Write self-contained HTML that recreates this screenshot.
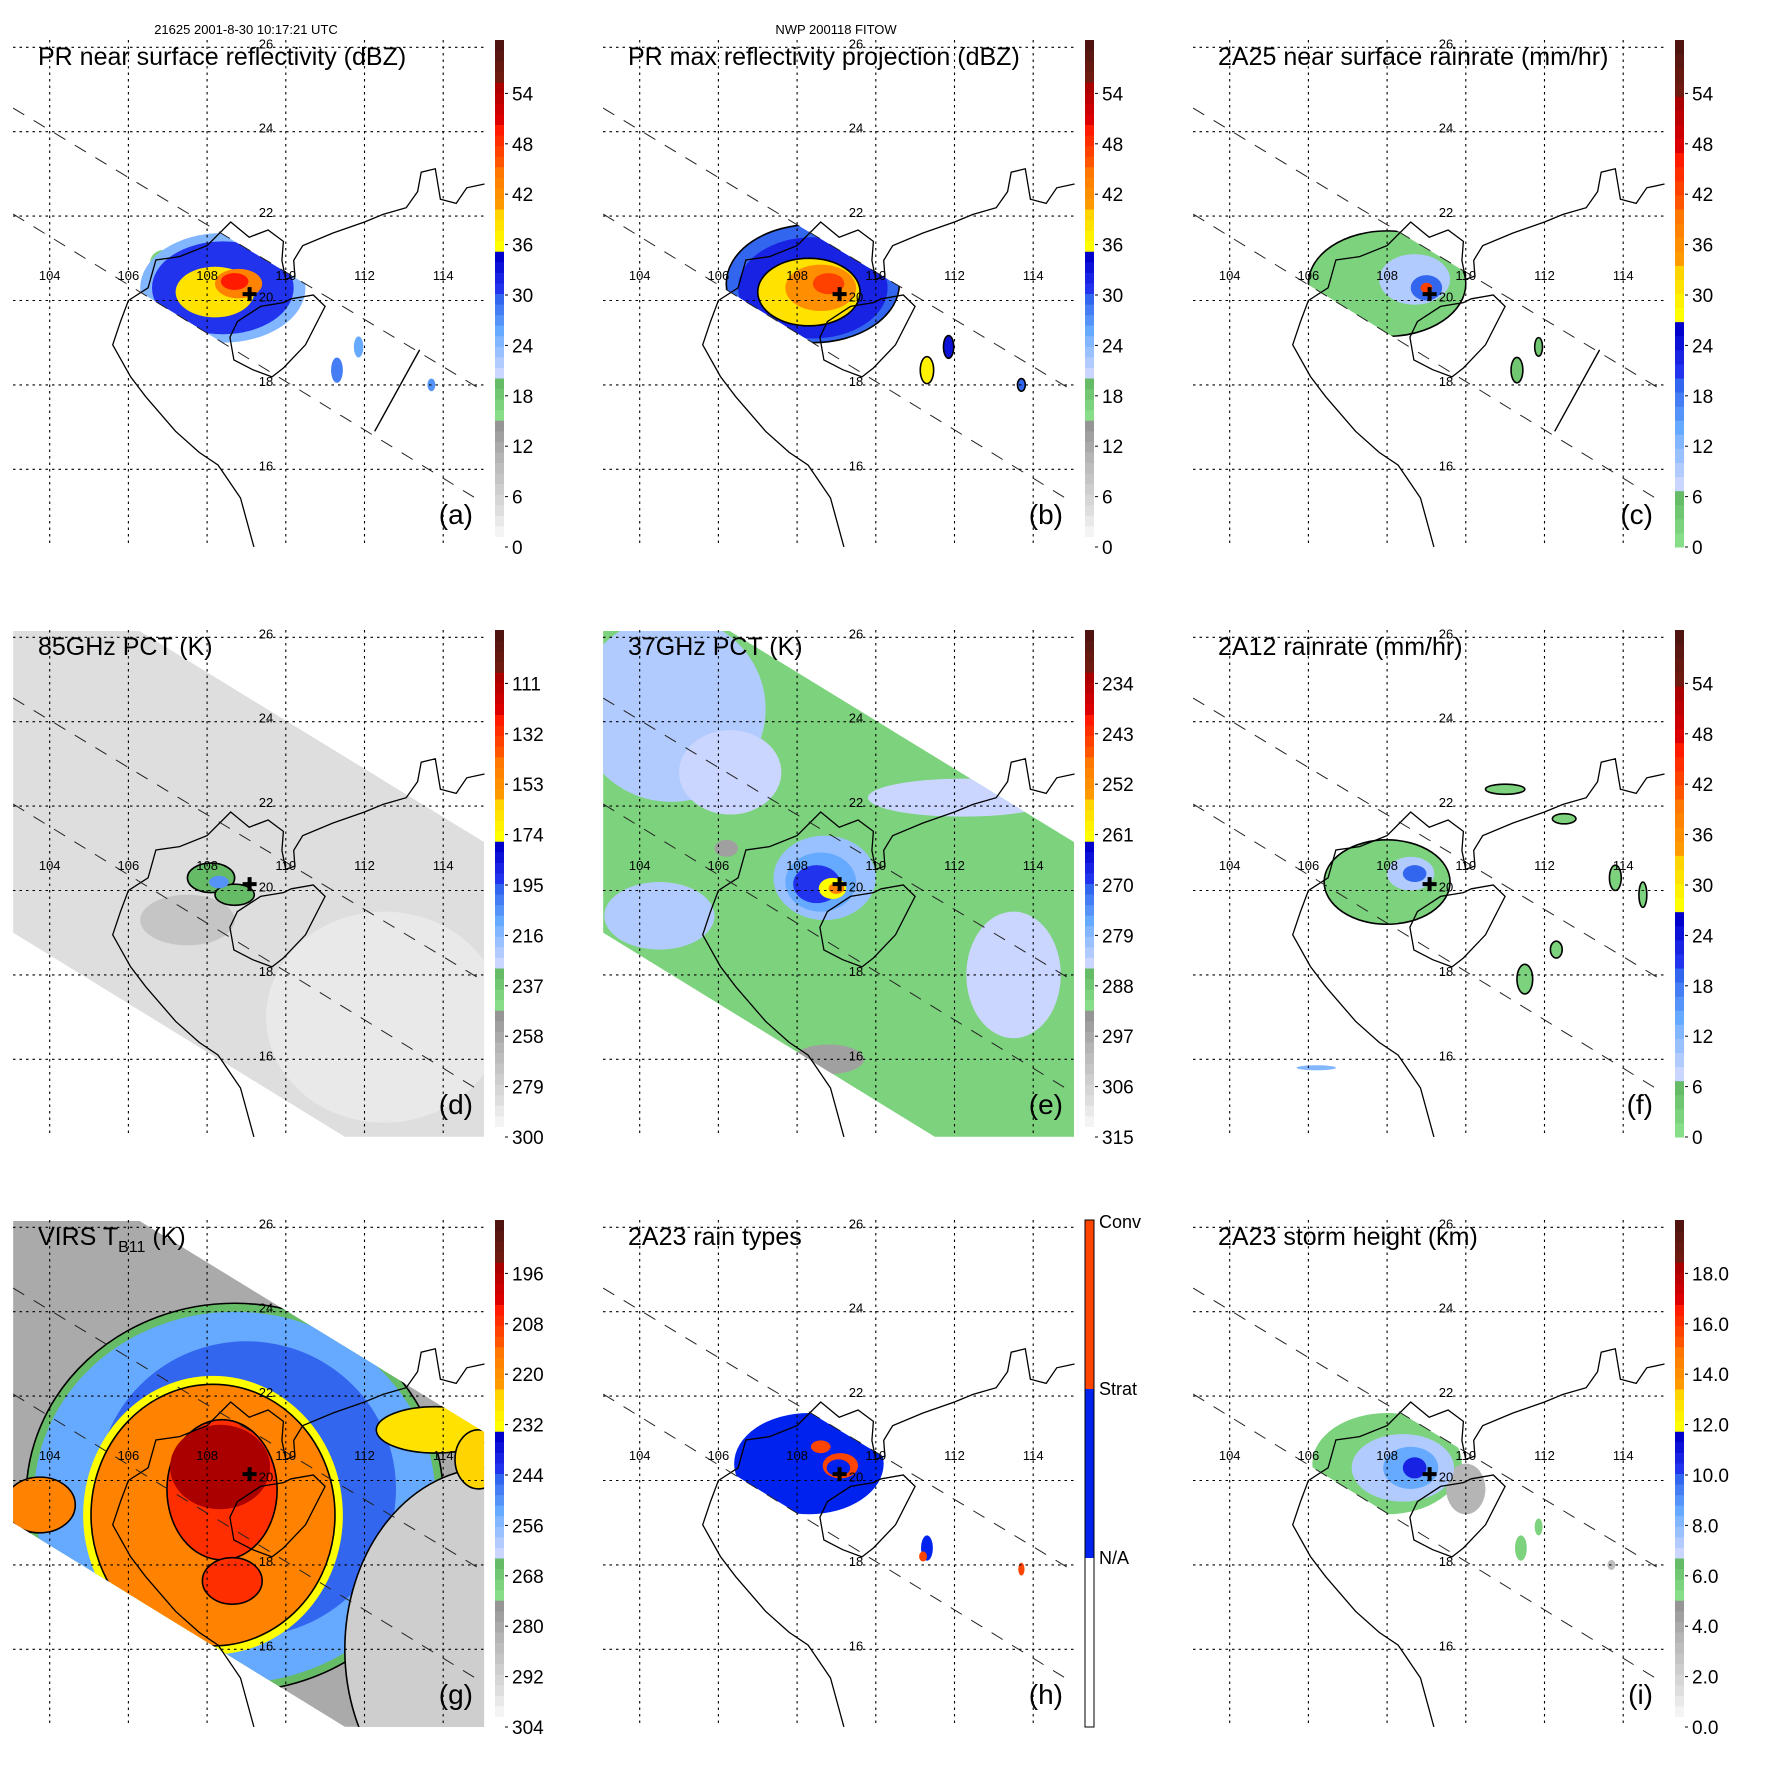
<!DOCTYPE html>
<html><head><meta charset="utf-8"><style>
html,body{margin:0;padding:0;background:#fff;}
svg{display:block;font-family:"Liberation Sans",Arial,sans-serif;}
</style></head><body>
<svg id="root" xmlns="http://www.w3.org/2000/svg" width="1771" height="1771" viewBox="0 0 1771 1771"></svg>
<script>
// ---------- data ----------
const lonTicks=[104,106,108,110,112,114];
const latTicks=[26,24,22,20,18,16];
const stormCenter=[109.08,20.15];
const mainlandCoast=[[109.19,14.16],[108.85,15.32],[108.28,16.1],[107.8,16.4],[107.2,16.9],[106.44,17.72],[106.05,18.2],[105.6,18.95],[105.8,19.5],[106.0,20.0],[106.5,20.3],[106.7,20.96],[107.3,21.04],[108.0,21.3],[108.6,21.86],[109.07,21.5],[109.55,21.67],[109.94,21.4],[109.9,20.95],[110.0,20.5],[110.23,20.58],[110.2,20.95],[110.43,21.3],[111.2,21.6],[112.0,21.86],[112.47,22.04],[113.06,22.2],[113.35,22.58],[113.44,23.04],[113.8,23.12],[113.93,22.4],[114.33,22.3],[114.6,22.67],[115.05,22.76]];
const hainanCoast=[[110.14,20.04],[110.7,20.13],[111.0,19.86],[110.5,18.95],[109.94,18.4],[109.65,18.19],[109.16,18.36],[108.68,18.59],[108.58,19.13],[108.77,19.5],[109.36,19.86],[109.94,19.95]];
const prUpper=[[103.07,24.56],[115.07,17.83]];
const prLower=[[103.07,22.05],[114.99,15.22]];
const scanLine=[[113.4,18.83],[112.26,16.9]];
const tmiSwath=[[103.07,26.15],[106.29,26.15],[115.04,21.15],[115.04,14.16],[111.5,14.16],[103.07,19.0]];

const labelsDBZ=['0','6','12','18','24','30','36','42','48','54'];
const labels85=['300','279','258','237','216','195','174','153','132','111'];
const labels37=['315','306','297','288','279','270','261','252','243','234'];
const labelsVirs=['304','292','280','268','256','244','232','220','208','196'];
const labelsHt=['0.0','2.0','4.0','6.0','8.0','10.0','12.0','14.0','16.0','18.0'];
const labelsType=['N/A','Strat','Conv'];

// blobs: [lon, lat, rxDeg, ryDeg, value, outlined]
const aBlobs=[[106.9,20.9,0.35,0.3,17,0],[108.4,20.3,2.1,1.3,25,0],[108.4,20.3,1.8,1.1,31,0],[108.2,20.2,1.0,0.6,38,0],[108.8,20.4,0.6,0.35,44,0],[108.7,20.45,0.35,0.2,50,0],[111.3,18.35,0.15,0.3,28,0],[111.85,18.9,0.12,0.25,26,0],[113.7,18.0,0.1,0.15,27,0]];
const bBlobs=[[108.4,20.4,2.2,1.4,29,1],[108.4,20.3,1.9,1.2,32,0],[108.3,20.2,1.3,0.8,38,1],[108.6,20.3,0.9,0.55,42,0],[108.8,20.4,0.4,0.25,47,0],[111.3,18.35,0.17,0.32,37,1],[111.85,18.9,0.13,0.27,33,1],[113.7,18.0,0.1,0.15,30,1]];
const cBlobs=[[108.0,20.4,2.0,1.25,3,1],[108.7,20.5,0.9,0.6,10,0],[109.0,20.3,0.4,0.3,20,0],[109.0,20.3,0.15,0.12,42,0],[111.3,18.35,0.15,0.3,5,1],[111.85,18.9,0.1,0.22,4,1]];
const dBlobs=[[112.5,17.0,3.0,2.5,288,0],[107.5,19.3,1.2,0.6,272,0],[108.1,20.3,0.6,0.35,232,1],[108.7,19.9,0.5,0.25,232,1],[108.3,20.2,0.25,0.15,205,0],[111.9,24.0,0.15,0.1,250,0]];
const eBlobs=[[104.8,24.3,2.4,2.2,282,0],[106.3,22.8,1.3,1.0,283,0],[104.5,19.4,1.4,0.8,282,0],[112.2,22.2,2.4,0.45,283,0],[113.5,18.0,1.2,1.5,284,0],[108.7,20.3,1.3,1.0,281,0],[108.6,20.2,0.9,0.7,276,0],[108.5,20.15,0.6,0.45,269,0],[108.9,20.05,0.35,0.25,262,0],[109.0,20.05,0.2,0.13,250,0],[108.8,16.0,0.9,0.35,296,0],[106.2,21.0,0.3,0.2,296,0]];
const fBlobs=[[108.0,20.2,1.6,1.0,3,1],[108.6,20.4,0.6,0.4,10,0],[108.7,20.4,0.3,0.2,20,0],[111.0,22.4,0.5,0.12,3,1],[112.5,21.7,0.3,0.12,3,1],[113.8,20.3,0.15,0.3,3,1],[111.5,17.9,0.2,0.35,3,1],[112.3,18.6,0.15,0.2,3,1],[114.5,19.9,0.1,0.3,3,1],[106.2,15.8,0.5,0.06,12,0]];
const gBlobs=[[108.7,19.6,5.3,4.6,266,1],[108.7,19.6,5.1,4.4,252,0],[109.0,19.8,3.8,3.5,244,0],[115.2,16.0,3.7,4.3,289,1],[113.8,21.2,1.5,0.55,228,1],[114.9,20.5,0.6,0.7,224,1],[103.75,19.42,0.9,0.66,218,1],[108.15,19.18,3.3,3.3,232,0],[108.15,19.18,3.1,3.1,218,1],[108.38,19.78,1.4,1.66,206,1],[108.64,17.62,0.76,0.55,206,1],[108.33,20.32,1.27,1.0,194,0]];
const hBlobs=[[108.3,20.4,1.9,1.2,1,0],[109.1,20.35,0.45,0.3,2,0],[109.05,20.3,0.3,0.2,1,0],[108.6,20.8,0.25,0.15,2,0],[111.3,18.4,0.15,0.3,1,0],[111.2,18.2,0.1,0.12,2,0],[113.7,17.9,0.08,0.15,2,0]];
const iBlobs=[[108.0,20.4,1.9,1.2,5.5,0],[110.0,19.8,0.5,0.6,3.5,0],[108.4,20.3,1.3,0.8,7.5,0],[108.6,20.3,0.7,0.5,8.8,0],[108.7,20.3,0.3,0.25,10.5,0],[111.4,18.4,0.15,0.3,5.5,0],[111.85,18.9,0.1,0.2,5.5,0],[113.7,18.0,0.1,0.12,3,0]];

// ---------- helpers ----------
const NS='http://www.w3.org/2000/svg';
const root=document.getElementById('root');
function X(lon){return 49.7+(lon-104)*39.35;}
function Y(lat){return 300.5-(lat-20)*42.2;}
function mk(tag,attrs,parent){const e=document.createElementNS(NS,tag);for(const k in attrs)e.setAttribute(k,attrs[k]);parent.appendChild(e);return e;}
function pts(arr){return arr.map(p=>X(p[0]).toFixed(1)+','+Y(p[1]).toFixed(1)).join(' ');}
function hex(c){return [parseInt(c.substr(1,2),16),parseInt(c.substr(3,2),16),parseInt(c.substr(5,2),16)];}
function mix(a,b,t){const A=hex(a),B=hex(b);return 'rgb('+A.map((v,i)=>Math.round(v+(B[i]-v)*t)).join(',')+')';}
const stdBands=[['#ffffff','#dedede'],['#d6d6d6','#bdbdbd'],['#b5b5b5','#959595'],['#88de88','#66bb66'],['#cad6ff','#82b6ff'],['#66aaff','#3366ee'],['#2233ee','#0000cc'],['#ffff00','#ffd400'],['#ff9900','#ff7700'],['#ff5500','#ff1a00'],['#dd0000','#aa0000'],['#6e1a10','#501410']];
const rainBands=stdBands.slice(3);
function pal(f,bands){f=Math.max(0,Math.min(0.9999,f));const u=f*bands.length;const i=Math.floor(u);const t=Math.floor((u-i)*4)/3;return mix(bands[i][0],bands[i][1],Math.min(1,t));}
function typeColor(v){return v>=2?'#ff4400':(v>=1?'#0022ee':'#ffffff');}

const panels=[
 {key:'a',col:0,row:0,title:'PR near surface reflectivity (dBZ)',labels:labelsDBZ,bands:stdBands,f:v=>v/60.4,blobs:aBlobs,clip:'pr',scan:true,header:'21625 2001-8-30 10:17:21 UTC'},
 {key:'b',col:1,row:0,title:'PR max reflectivity projection (dBZ)',labels:labelsDBZ,bands:stdBands,f:v=>v/60.4,blobs:bBlobs,clip:'pr',header:'NWP 200118 FITOW'},
 {key:'c',col:2,row:0,title:'2A25 near surface rainrate (mm/hr)',labels:labelsDBZ,bands:rainBands,f:v=>v/60.4,blobs:cBlobs,clip:'pr',scan:true},
 {key:'d',col:0,row:1,title:'85GHz PCT (K)',labels:labels85,bands:stdBands,f:v=>(300-v)/211.3,blobs:dBlobs,clip:'tmi',base:284},
 {key:'e',col:1,row:1,title:'37GHz PCT (K)',labels:labels37,bands:stdBands,f:v=>(315-v)/90.5,blobs:eBlobs,clip:'tmi',base:289},
 {key:'f',col:2,row:1,title:'2A12 rainrate (mm/hr)',labels:labelsDBZ,bands:rainBands,f:v=>v/60.4,blobs:fBlobs,clip:null},
 {key:'g',col:0,row:2,title:'VIRS',labels:labelsVirs,bands:stdBands,f:v=>(304-v)/120.7,blobs:gBlobs,clip:'tmi',base:279},
 {key:'h',col:1,row:2,title:'2A23 rain types',labels:labelsType,type:true,blobs:hBlobs,clip:'pr'},
 {key:'i',col:2,row:2,title:'2A23 storm height (km)',labels:labelsHt,bands:stdBands,f:v=>v/20.12,blobs:iBlobs,clip:'pr'}
];

const defs=mk('defs',{},root);
const cpMap=mk('clipPath',{id:'clip-map'},defs);mk('rect',{x:13,y:40,width:472.5,height:507},cpMap);
const prPoly=[prUpper[0],prUpper[1],prLower[1],prLower[0]];
const cpPr=mk('clipPath',{id:'clip-pr'},defs);mk('polygon',{points:pts(prPoly)},cpPr);
const cpTmi=mk('clipPath',{id:'clip-tmi'},defs);mk('polygon',{points:pts(tmiSwath)},cpTmi);

panels.forEach(p=>{
 const g=mk('g',{transform:'translate('+(p.col*590)+','+(p.row*590)+')'},root);
 
 
 const map=mk('g',{'clip-path':'url(#clip-map)'},g);
 
 
 const data=mk('g',{},map);
 
 
 if(p.clip==='pr')data.setAttribute('clip-path','url(#clip-pr)');
 if(p.clip==='tmi')data.setAttribute('clip-path','url(#clip-tmi)');
 if(p.base!==undefined){
  const s=mk('polygon',{points:pts(tmiSwath),fill:pal(p.f(p.base),p.bands)},data);
  
  
 }
 p.blobs.forEach((b,i)=>{
  const col=p.type?typeColor(b[4]):pal(p.f(b[4]),p.bands);
  const e=mk('ellipse',{cx:X(b[0]),cy:Y(b[1]),rx:b[2]*39.35,ry:b[3]*42.2,fill:col},data);
  if(b[5])e.setAttribute('stroke','#000'),e.setAttribute('stroke-width','1.6');
  
  
 });
 const c1=mk('polyline',{points:pts(mainlandCoast),fill:'none',stroke:'#000','stroke-width':1.3},map);
 
 
 const c2=mk('polygon',{points:pts(hainanCoast),fill:'none',stroke:'#000','stroke-width':1.3},map);
 
 
 [prUpper,prLower].forEach(l=>{
  const d=mk('polyline',{points:pts(l),fill:'none',stroke:'#222','stroke-width':1,'stroke-dasharray':'13,11'},map);
  
  
 });
 if(p.scan){const s=mk('polyline',{points:pts(scanLine),fill:'none',stroke:'#000','stroke-width':1.4},map);
  
  }
 lonTicks.forEach(l=>{
  const ln=mk('line',{x1:X(l),x2:X(l),y1:40,y2:547,stroke:'#000','stroke-width':1.1,'stroke-dasharray':'2.5,4'},g);
  
  
  const t=mk('text',{x:X(l),y:280,'font-size':13,'text-anchor':'middle'},g);t.textContent=l;
  
  
 });
 latTicks.forEach(l=>{
  const ln=mk('line',{x1:13,x2:485.5,y1:Y(l),y2:Y(l),stroke:'#000','stroke-width':1.1,'stroke-dasharray':'2.5,4'},g);
  
  
  const t=mk('text',{x:266,y:Y(l)+1,'font-size':13,'text-anchor':'middle'},g);t.textContent=l;
  
  
 });
 const cx=X(stormCenter[0]),cy=Y(stormCenter[1]);
 const cr=mk('path',{d:'M'+(cx-7)+' '+cy+'H'+(cx+7)+'M'+cx+' '+(cy-7)+'V'+(cy+7),stroke:'#000','stroke-width':4},g);
 
 
 const t=mk('text',{x:38,y:65,'font-size':25},g);
 if(p.key==='g'){t.innerHTML='VIRS T<tspan font-size="16" dy="7">B11</tspan><tspan dy="-7"> (K)</tspan>';}
 else t.textContent=p.title;
 
 
 const lt=mk('text',{x:473,y:524,'font-size':28,'text-anchor':'end'},g);lt.textContent='('+p.key+')';
 
 
 if(p.header){const h=mk('text',{x:246,y:34,'font-size':13,'text-anchor':'middle'},g);h.textContent=p.header;
  
  }
 const cb=mk('g',{},g);
 
 
 if(p.type){
  const segs=[[0,'#ffffff'],[1,'#0022ee'],[2,'#ff4400']];
  segs.forEach(s=>{mk('rect',{x:495,y:547-(s[0]+1)*169,width:9,height:169,fill:s[1]},cb);});
  mk('rect',{x:495,y:40,width:9,height:507,fill:'none',stroke:'#000','stroke-width':1},cb);
  const ys=[378,209,42];
  p.labels.forEach((l,i)=>{const tx=mk('text',{x:509,y:ys[i]+6,'font-size':18},cb);tx.textContent=l;
   
   });
 } else {
  const n=p.bands.length*4,h=507/n;
  for(let i=0;i<n;i++){mk('rect',{x:495,y:547-(i+1)*h,width:9,height:h+0.5,fill:pal((i+0.5)/n,p.bands)},cb);}
  p.labels.forEach((l,i)=>{const y=547-i*50.4;
   mk('line',{x1:505,x2:508,y1:y,y2:y,stroke:'#000'},cb);
   const tx=mk('text',{x:512,y:y+7,'font-size':19},cb);tx.textContent=l;
   
   });
 }
});
</script>
</body></html>
